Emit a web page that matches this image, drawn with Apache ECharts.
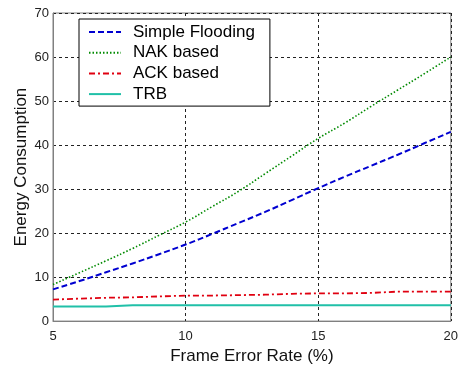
<!DOCTYPE html>
<html>
<head>
<meta charset="utf-8">
<script src="https://cdn.jsdelivr.net/npm/echarts@6/dist/echarts.min.js"></script>
<style>
html,body{margin:0;padding:0;background:#fff;}
#c{width:461px;height:370px;}
</style>
</head>
<body>
<div id="c"></div>
<script>
const frameErrorRate = [5, 6, 7, 8, 9, 10, 11, 12, 13, 14, 15, 16, 17, 18, 19, 20];
const simpleFlooding = [7.2, 9.1, 11.1, 13.1, 15.2, 17.4, 19.8, 22.3, 24.8, 27.5, 30.2, 32.8, 35.3, 37.8, 40.4, 43.0];
const nakBased = [8.3, 11.0, 13.7, 16.5, 19.5, 22.5, 26.0, 29.5, 33.5, 37.5, 41.5, 45.0, 48.8, 52.5, 56.2, 60.0];
const ackBased = [4.9, 5.1, 5.3, 5.4, 5.6, 5.8, 5.8, 5.9, 6.0, 6.2, 6.3, 6.3, 6.4, 6.7, 6.7, 6.7];
const trb = [3.3, 3.3, 3.3, 3.6, 3.6, 3.6, 3.6, 3.6, 3.6, 3.6, 3.6, 3.6, 3.6, 3.6, 3.6, 3.6];
const seriesNames = ['Simple Flooding', 'NAK based', 'ACK based', 'TRB'];
const xLabel = 'Frame Error Rate (%)';
const yLabel = 'Energy Consumption';

function pairs(ys) { return frameErrorRate.map((x, i) => [x, ys[i]]); }

const chart = echarts.init(document.getElementById('c'));
const font = 'Liberation Sans, Arial, sans-serif';
const gridLine = { show: true, lineStyle: { color: '#222', type: [3, 3], width: 1 } };
chart.setOption({
  backgroundColor: '#fff',
  animation: false,
  grid: { left: 53, top: 13, right: 8, bottom: 42, show: true, borderColor: '#808080', borderWidth: 1, backgroundColor: '#fff' },
  xAxis: {
    type: 'value', min: 5, max: 20, interval: 5,
    name: xLabel, nameLocation: 'middle', nameGap: 25,
    nameTextStyle: { fontFamily: font, fontSize: 17, color: '#111' },
    axisLine: { show: true, lineStyle: { color: '#808080' } },
    axisTick: { show: false },
    axisLabel: { fontFamily: font, fontSize: 13, color: '#222', margin: 9 },
    splitLine: gridLine
  },
  yAxis: {
    type: 'value', min: 0, max: 70, interval: 10,
    name: yLabel, nameLocation: 'middle', nameGap: 23, nameMoveOverlap: false,
    nameTextStyle: { fontFamily: font, fontSize: 17, color: '#111' },
    axisLine: { show: true, lineStyle: { color: '#808080' } },
    axisTick: { show: false },
    axisLabel: { fontFamily: font, fontSize: 13, color: '#222', margin: 4 },
    splitLine: gridLine
  },
  legend: {
    orient: 'vertical', left: 79, top: 19,
    padding: [4.5, 15, 3.5, 9],
    itemWidth: 32, itemHeight: 14, itemGap: 3.7,
    backgroundColor: '#fff', borderColor: '#000', borderWidth: 1,
    itemStyle: { opacity: 0 },
    textStyle: { fontFamily: font, fontSize: 17, color: '#000', padding: [0, 0, 0, 7] },
    data: seriesNames
  },
  series: [
    { name: seriesNames[0], type: 'line', data: pairs(simpleFlooding), symbol: 'none', smooth: true,
      lineStyle: { color: '#0000d0', width: 2, type: [6, 3] }, itemStyle: { color: '#0000d0' } },
    { name: seriesNames[1], type: 'line', data: pairs(nakBased), symbol: 'none', smooth: true,
      lineStyle: { color: '#008a00', width: 1.6, type: [1.5, 2] }, itemStyle: { color: '#008a00' } },
    { name: seriesNames[2], type: 'line', data: pairs(ackBased), symbol: 'none',
      lineStyle: { color: '#e00010', width: 1.8, type: [6, 3, 2, 3] }, itemStyle: { color: '#e00010' } },
    { name: seriesNames[3], type: 'line', data: pairs(trb), symbol: 'none',
      lineStyle: { color: '#20c0a8', width: 2 }, itemStyle: { color: '#20c0a8' } }
  ]
});
</script>
</body>
</html>
